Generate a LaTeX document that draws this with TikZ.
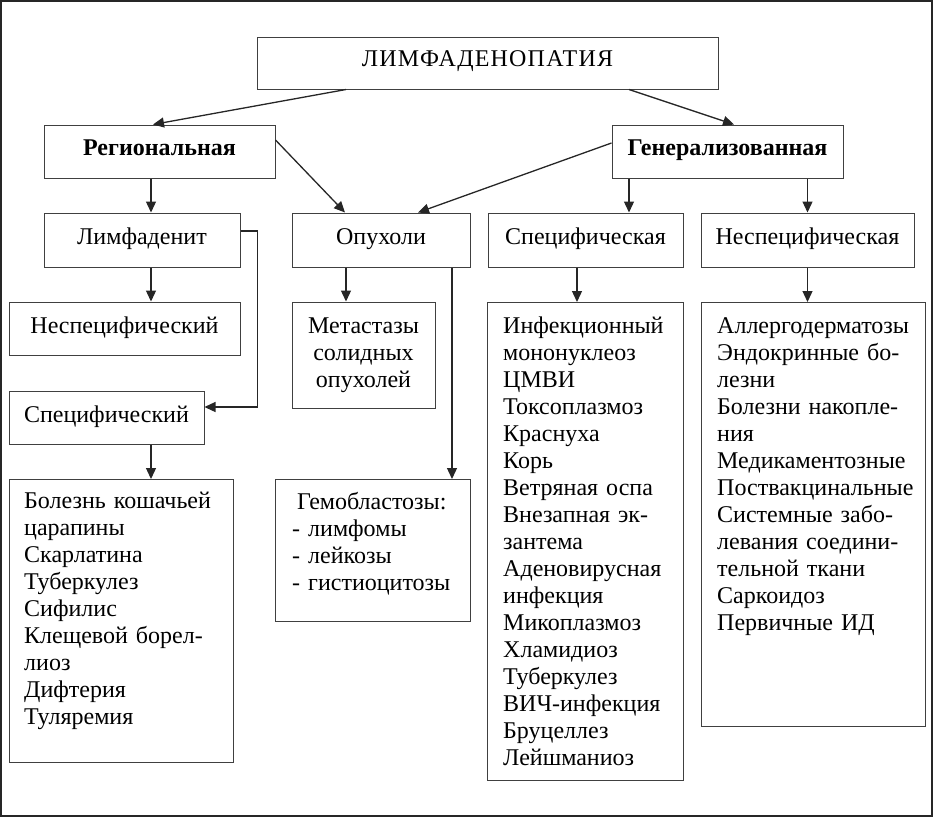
\documentclass[tikz,border=0pt]{standalone}
\usepackage{fontspec}
\setmainfont{Liberation Serif}
\usetikzlibrary{arrows.meta}
\newcommand{\txtfont}{\fontsize{24}{27}\selectfont}
\newcommand{\up}[1]{\raisebox{7pt}{#1}}
\begin{document}
\begin{tikzpicture}[x=1pt,y=-1pt,
  box/.style={draw=black!75, line width=1pt, inner sep=0pt, align=center, font=\txtfont},
  arr/.style={draw=black!85, line width=1.3pt, -{Triangle[length=11pt,width=10pt]}},
  lst/.style={inner sep=0pt, anchor=north west, align=left, font=\txtfont}]
\useasboundingbox (0,0) rectangle (933,817);
\draw[draw=black!85, line width=2pt] (1,1) rectangle (932,816);
% level 0/1
\node[box, minimum width=461, minimum height=52] (lim) at (487.5,63) {\raisebox{8pt}{\addfontfeature{LetterSpace=5}ЛИМФАДЕНОПАТИЯ}};
\node[box, minimum width=231, minimum height=53] (reg) at (159.5,151.5) {\up{\bfseries Региональная}};
\node[box, minimum width=231, minimum height=53] (gen) at (727.5,151.5) {\up{\bfseries Генерализованная}};
% level 2
\node[box, minimum width=196, minimum height=54] (limf) at (142,240) {\up{Лимфаденит}};
\node[box, minimum width=178, minimum height=54] (opu) at (381,240) {\up{Опухоли}};
\node[box, minimum width=195, minimum height=54] (spa) at (585.5,240) {\up{Специфическая}};
\node[box, minimum width=213, minimum height=54] (nspa) at (807.5,240) {\up{Неспецифическая}};
% level 3
\node[box, minimum width=231, minimum height=53] (nsk) at (124.5,328.5) {\up{Неспецифический}};
\node[box, minimum width=195, minimum height=53] (spk) at (106.5,417.5) {\up{Специфический}};
\node[box, minimum width=143, minimum height=106] (meta) at (363.5,355) {Метастазы\\солидных\\опухолей};
\node[box, minimum width=224, minimum height=283, anchor=north west] (bol) at (9,479) {};
\node[box, minimum width=195, minimum height=142, anchor=north west] (gem) at (275,479) {};
\node[box, minimum width=196, minimum height=478, anchor=north west] (spl) at (487,302) {};
\node[box, minimum width=224, minimum height=424, anchor=north west] (nspl) at (701,302) {};
% list texts
\node[lst, text width=200] (bolt) at (24,492) {\makebox[191pt][s]{Болезнь кошачьей}\\царапины\\Скарлатина\\Туберкулез\\Сифилис\\Клещевой борел-\\лиоз\\Дифтерия\\Туляремия};
\node[lst, text width=180] (gemt) at (292,492) {\hspace*{5pt}Гемобластозы:\\- лимфомы\\- лейкозы\\- гистиоцитозы};
\node[lst, text width=175] (splt) at (503,317) {Инфекционный\\мононуклеоз\\ЦМВИ\\Токсоплазмоз\\Краснуха\\Корь\\Ветряная оспа\\\makebox[164pt][s]{Внезапная эк-}\\зантема\\Аденовирусная\\инфекция\\Микоплазмоз\\Хламидиоз\\Туберкулез\\ВИЧ-инфекция\\Бруцеллез\\Лейшманиоз};
\node[lst, text width=205] (nsplt) at (717,317) {Аллергодерматозы\\\makebox[193pt][s]{Эндокринные бо-}\\лезни\\\makebox[193pt][s]{Болезни накопле-}\\ния\\Медикаментозные\\Поствакцинальные\\\makebox[193pt][s]{Системные забо-}\\\makebox[193pt][s]{левания соедини-}\\тельной ткани\\Саркоидоз\\Первичные ИД};
% connectors
\draw[arr] ([xshift=-141.5pt]lim.south) -- ([xshift=-6.5pt]reg.north);
\draw[arr] ([xshift=141.5pt]lim.south) -- ([xshift=6.5pt]gen.north);
\draw[arr] ([yshift=11.5pt]reg.east) -- ([xshift=-36pt]opu.north);
\draw[arr] ([yshift=8.5pt]gen.west) -- ([xshift=37pt]opu.north);
\draw[arr] ([xshift=-8.5pt]reg.south) -- ([xshift=9pt]limf.north);
\draw[arr] ([xshift=-98.5pt]gen.south) -- ([xshift=43.5pt]spa.north);
\draw[arr] (nspa.north |- gen.south) -- (nspa.north);
\draw[arr] ([xshift=9pt]limf.south) -- ([xshift=26.5pt]nsk.north);
\draw[arr] ([yshift=9pt]limf.east) -- ++(17,0) |- ([yshift=10.5pt]spk.east);
\draw[arr] ([xshift=-35pt]opu.south) -- ([xshift=-17.5pt]meta.north);
\draw[arr] ([xshift=71pt]opu.south) -- ([xshift=71pt]opu.south |- gem.north);
\draw[arr] ([xshift=44.5pt]spk.south) -- ([xshift=44.5pt]spk.south |- bol.north);
\draw[arr] ([xshift=-8.5pt]spa.south) -- ([xshift=-8.5pt]spa.south |- spl.north);
\draw[arr] (nspa.south) -- (nspa.south |- nspl.north);
\end{tikzpicture}
\end{document}
